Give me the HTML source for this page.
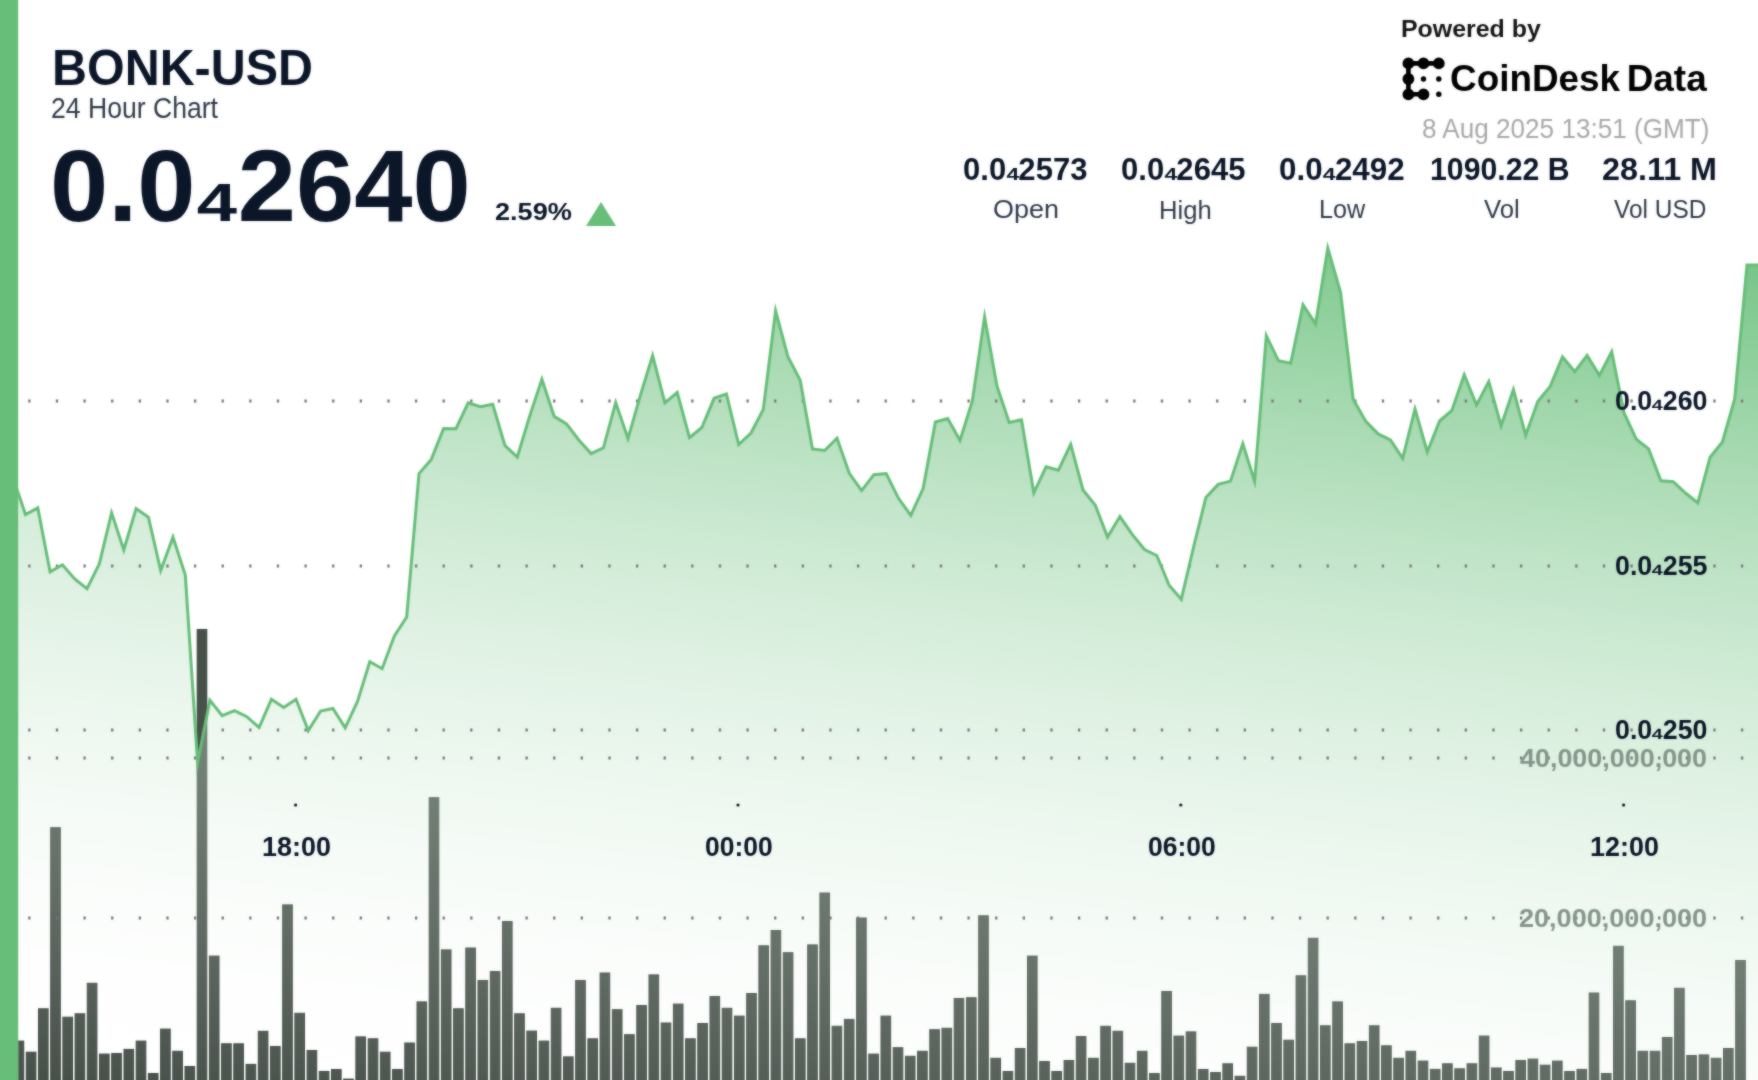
<!DOCTYPE html>
<html><head><meta charset="utf-8"><title>BONK-USD</title>
<style>
html,body{margin:0;padding:0;background:#fff;}
body{width:1758px;height:1080px;overflow:hidden;position:relative;font-family:"Liberation Sans",sans-serif;color:#0b1628;}
#chart,#chart2{position:absolute;left:0;top:0;}
#wrap{position:absolute;left:0;top:0;width:1758px;height:1080px;}
#wrap2{position:absolute;left:-20px;top:-20px;width:1798px;height:1120px;background:#fff;filter:blur(1px);opacity:0.5;}
#wrap2>div{position:absolute;left:20px;top:20px;width:1758px;height:1080px;}
.t{position:absolute;white-space:nowrap;line-height:1;transform-origin:0 0;}
.b{font-weight:bold;}
.r{transform-origin:100% 0;}
.c{transform-origin:50% 0;}
sub.s{font-size:58%;vertical-align:baseline;position:relative;top:0.06em;}
</style></head><body><div id="wrap">
<svg id="chart" width="1758" height="1080" viewBox="0 0 1758 1080" overflow="visible" style="overflow:visible">
<defs>
<linearGradient id="ag" gradientUnits="userSpaceOnUse" x1="1758" y1="202" x2="1634.2" y2="1263.2">
<stop offset="0" stop-color="#66be78" stop-opacity="1"/>
<stop offset="1" stop-color="#ffffff" stop-opacity="0"/>
</linearGradient>
<clipPath id="cp"><rect x="18.2" y="-20" width="1780" height="1130"/></clipPath>
</defs>
<g clip-path="url(#cp)">
<g fill="#47514a" stroke="#3b453e" stroke-width="1"><rect x="14.1" y="1041.1" width="9.6" height="69.4"/><rect x="26.3" y="1052.2" width="9.6" height="58.3"/><rect x="38.5" y="1008.8" width="9.6" height="101.7"/><rect x="50.7" y="827.7" width="9.6" height="282.8"/><rect x="62.9" y="1017.2" width="9.6" height="93.3"/><rect x="75.1" y="1013.8" width="9.6" height="96.7"/><rect x="87.3" y="983.3" width="9.6" height="127.2"/><rect x="99.5" y="1054.1" width="9.6" height="56.4"/><rect x="111.7" y="1053.5" width="9.6" height="57.0"/><rect x="124.0" y="1049.4" width="9.6" height="61.1"/><rect x="136.2" y="1041.1" width="9.6" height="69.4"/><rect x="148.4" y="1073.5" width="9.6" height="37.0"/><rect x="160.6" y="1029.1" width="9.6" height="81.4"/><rect x="172.8" y="1051.3" width="9.6" height="59.2"/><rect x="185.0" y="1066.5" width="9.6" height="44.0"/><rect x="197.2" y="629.5" width="9.6" height="481.0"/><rect x="209.4" y="956.1" width="9.6" height="154.4"/><rect x="221.6" y="1043.8" width="9.6" height="66.7"/><rect x="233.8" y="1043.8" width="9.6" height="66.7"/><rect x="246.1" y="1064.4" width="9.6" height="46.1"/><rect x="258.3" y="1031.3" width="9.6" height="79.2"/><rect x="270.5" y="1046.5" width="9.6" height="64.0"/><rect x="282.7" y="904.9" width="9.6" height="205.6"/><rect x="294.9" y="1013.3" width="9.6" height="97.2"/><rect x="307.1" y="1050.5" width="9.6" height="60.0"/><rect x="319.3" y="1071.5" width="9.6" height="39.0"/><rect x="331.5" y="1069.5" width="9.6" height="41.0"/><rect x="343.7" y="1079.1" width="9.6" height="31.4"/><rect x="355.9" y="1036.9" width="9.6" height="73.6"/><rect x="368.2" y="1038.8" width="9.6" height="71.7"/><rect x="380.4" y="1052.2" width="9.6" height="58.3"/><rect x="392.6" y="1069.5" width="9.6" height="41.0"/><rect x="404.8" y="1043.0" width="9.6" height="67.5"/><rect x="417.0" y="1001.9" width="9.6" height="108.6"/><rect x="429.2" y="797.7" width="9.6" height="312.8"/><rect x="441.4" y="949.9" width="9.6" height="160.6"/><rect x="453.6" y="1008.8" width="9.6" height="101.7"/><rect x="465.8" y="948.0" width="9.6" height="162.5"/><rect x="478.0" y="980.5" width="9.6" height="130.0"/><rect x="490.3" y="971.5" width="9.6" height="139.0"/><rect x="502.5" y="921.5" width="9.6" height="189.0"/><rect x="514.7" y="1013.8" width="9.6" height="96.7"/><rect x="526.9" y="1031.1" width="9.6" height="79.4"/><rect x="539.1" y="1041.1" width="9.6" height="69.4"/><rect x="551.3" y="1008.3" width="9.6" height="102.2"/><rect x="563.5" y="1056.9" width="9.6" height="53.6"/><rect x="575.7" y="980.5" width="9.6" height="130.0"/><rect x="587.9" y="1038.8" width="9.6" height="71.7"/><rect x="600.1" y="973.0" width="9.6" height="137.5"/><rect x="612.4" y="1009.7" width="9.6" height="100.8"/><rect x="624.6" y="1034.7" width="9.6" height="75.8"/><rect x="636.8" y="1005.5" width="9.6" height="105.0"/><rect x="649.0" y="974.9" width="9.6" height="135.6"/><rect x="661.2" y="1023.0" width="9.6" height="87.5"/><rect x="673.4" y="1004.1" width="9.6" height="106.4"/><rect x="685.6" y="1038.8" width="9.6" height="71.7"/><rect x="697.8" y="1023.5" width="9.6" height="87.0"/><rect x="710.0" y="996.5" width="9.6" height="114.0"/><rect x="722.2" y="1008.3" width="9.6" height="102.2"/><rect x="734.5" y="1016.1" width="9.6" height="94.4"/><rect x="746.7" y="993.5" width="9.6" height="117.0"/><rect x="758.9" y="945.8" width="9.6" height="164.7"/><rect x="771.1" y="930.5" width="9.6" height="180.0"/><rect x="783.3" y="952.7" width="9.6" height="157.8"/><rect x="795.5" y="1038.8" width="9.6" height="71.7"/><rect x="807.7" y="944.9" width="9.6" height="165.6"/><rect x="819.9" y="893.0" width="9.6" height="217.5"/><rect x="832.1" y="1026.3" width="9.6" height="84.2"/><rect x="844.4" y="1019.4" width="9.6" height="91.1"/><rect x="856.6" y="918.0" width="9.6" height="192.5"/><rect x="868.8" y="1054.1" width="9.6" height="56.4"/><rect x="881.0" y="1016.1" width="9.6" height="94.4"/><rect x="893.2" y="1047.7" width="9.6" height="62.8"/><rect x="905.4" y="1056.3" width="9.6" height="54.2"/><rect x="917.6" y="1051.3" width="9.6" height="59.2"/><rect x="929.8" y="1029.7" width="9.6" height="80.8"/><rect x="942.0" y="1028.3" width="9.6" height="82.2"/><rect x="954.2" y="998.5" width="9.6" height="112.0"/><rect x="966.5" y="997.7" width="9.6" height="112.8"/><rect x="978.7" y="915.8" width="9.6" height="194.7"/><rect x="990.9" y="1058.3" width="9.6" height="52.2"/><rect x="1003.1" y="1071.5" width="9.6" height="39.0"/><rect x="1015.3" y="1048.5" width="9.6" height="62.0"/><rect x="1027.5" y="956.1" width="9.6" height="154.4"/><rect x="1039.7" y="1061.5" width="9.6" height="49.0"/><rect x="1051.9" y="1071.5" width="9.6" height="39.0"/><rect x="1064.1" y="1060.5" width="9.6" height="50.0"/><rect x="1076.3" y="1036.5" width="9.6" height="74.0"/><rect x="1088.6" y="1058.3" width="9.6" height="52.2"/><rect x="1100.8" y="1026.3" width="9.6" height="84.2"/><rect x="1113.0" y="1031.3" width="9.6" height="79.2"/><rect x="1125.2" y="1063.3" width="9.6" height="47.2"/><rect x="1137.4" y="1051.3" width="9.6" height="59.2"/><rect x="1149.6" y="1073.5" width="9.6" height="37.0"/><rect x="1161.8" y="991.5" width="9.6" height="119.0"/><rect x="1174.0" y="1036.1" width="9.6" height="74.4"/><rect x="1186.2" y="1031.9" width="9.6" height="78.6"/><rect x="1198.4" y="1069.5" width="9.6" height="41.0"/><rect x="1210.7" y="1072.5" width="9.6" height="38.0"/><rect x="1222.9" y="1063.8" width="9.6" height="46.7"/><rect x="1235.1" y="1076.3" width="9.6" height="34.2"/><rect x="1247.3" y="1047.2" width="9.6" height="63.3"/><rect x="1259.5" y="994.4" width="9.6" height="116.1"/><rect x="1271.7" y="1023.5" width="9.6" height="87.0"/><rect x="1283.9" y="1040.2" width="9.6" height="70.3"/><rect x="1296.1" y="975.8" width="9.6" height="134.7"/><rect x="1308.3" y="938.3" width="9.6" height="172.2"/><rect x="1320.5" y="1025.8" width="9.6" height="84.7"/><rect x="1332.8" y="1001.9" width="9.6" height="108.6"/><rect x="1345.0" y="1043.8" width="9.6" height="66.7"/><rect x="1357.2" y="1041.5" width="9.6" height="69.0"/><rect x="1369.4" y="1025.8" width="9.6" height="84.7"/><rect x="1381.6" y="1045.8" width="9.6" height="64.7"/><rect x="1393.8" y="1058.3" width="9.6" height="52.2"/><rect x="1406.0" y="1051.3" width="9.6" height="59.2"/><rect x="1418.2" y="1061.1" width="9.6" height="49.4"/><rect x="1430.4" y="1069.4" width="9.6" height="41.1"/><rect x="1442.6" y="1063.8" width="9.6" height="46.7"/><rect x="1454.8" y="1068.8" width="9.6" height="41.7"/><rect x="1467.1" y="1063.8" width="9.6" height="46.7"/><rect x="1479.3" y="1036.1" width="9.6" height="74.4"/><rect x="1491.5" y="1068.0" width="9.6" height="42.5"/><rect x="1503.7" y="1071.5" width="9.6" height="39.0"/><rect x="1515.9" y="1060.5" width="9.6" height="50.0"/><rect x="1528.1" y="1059.1" width="9.6" height="51.4"/><rect x="1540.3" y="1065.2" width="9.6" height="45.3"/><rect x="1552.5" y="1061.1" width="9.6" height="49.4"/><rect x="1564.7" y="1071.5" width="9.6" height="39.0"/><rect x="1577.0" y="1069.4" width="9.6" height="41.1"/><rect x="1589.2" y="993.0" width="9.6" height="117.5"/><rect x="1601.4" y="1073.5" width="9.6" height="37.0"/><rect x="1613.6" y="946.3" width="9.6" height="164.2"/><rect x="1625.8" y="1000.8" width="9.6" height="109.7"/><rect x="1638.0" y="1051.3" width="9.6" height="59.2"/><rect x="1650.2" y="1051.3" width="9.6" height="59.2"/><rect x="1662.4" y="1037.5" width="9.6" height="73.0"/><rect x="1674.6" y="988.3" width="9.6" height="122.2"/><rect x="1686.8" y="1055.5" width="9.6" height="55.0"/><rect x="1699.1" y="1054.9" width="9.6" height="55.6"/><rect x="1711.3" y="1058.3" width="9.6" height="52.2"/><rect x="1723.5" y="1048.5" width="9.6" height="62.0"/><rect x="1735.7" y="960.5" width="9.6" height="150.0"/></g>
<path d="M13.2,478.0 L25.5,514.6 L37.8,507.9 L50.1,571.9 L62.4,564.8 L74.7,579.0 L87.0,588.7 L99.3,563.9 L111.6,512.9 L123.8,549.9 L136.1,508.6 L148.4,517.2 L160.7,570.6 L173.0,537.2 L185.3,575.0 L197.6,762.7 L209.9,700.3 L222.2,715.7 L234.5,710.6 L246.8,716.7 L259.1,727.5 L271.4,699.3 L283.7,707.5 L296.0,699.3 L308.3,730.6 L320.6,711.0 L332.9,708.5 L345.2,727.8 L357.5,701.4 L369.8,661.7 L382.1,668.7 L394.4,636.0 L406.7,617.0 L419.0,473.5 L431.3,459.4 L443.6,428.5 L455.9,428.7 L468.2,402.9 L480.4,406.7 L492.7,404.3 L505.0,445.6 L517.3,457.0 L529.6,416.4 L541.9,379.2 L554.2,416.4 L566.5,423.9 L578.8,440.0 L591.1,453.6 L603.4,447.8 L615.7,402.6 L628.0,438.6 L640.3,395.6 L652.6,355.6 L664.9,402.8 L677.2,392.5 L689.5,437.6 L701.8,427.5 L714.1,398.3 L726.4,393.9 L738.7,444.5 L751.0,433.0 L763.3,409.4 L775.6,310.9 L787.9,356.7 L800.2,380.3 L812.5,448.9 L824.7,450.5 L837.0,438.2 L849.3,473.3 L861.6,490.6 L873.9,474.7 L886.2,473.5 L898.5,498.3 L910.8,515.3 L923.1,488.6 L935.4,422.0 L947.7,418.6 L960.0,440.4 L972.3,401.1 L984.6,316.8 L996.9,385.8 L1009.2,422.4 L1021.5,419.7 L1033.8,492.8 L1046.1,466.8 L1058.4,470.2 L1070.7,444.4 L1083.0,490.0 L1095.3,505.3 L1107.6,537.1 L1119.9,516.6 L1132.2,534.4 L1144.5,549.5 L1156.8,555.5 L1169.1,585.3 L1181.3,599.2 L1193.6,547.0 L1205.9,497.5 L1218.2,484.4 L1230.5,481.1 L1242.8,443.6 L1254.6,481.3 L1266.3,335.8 L1278.5,360.8 L1290.7,363.3 L1303.0,304.9 L1315.6,323.9 L1327.8,248.1 L1340.6,292.5 L1353.2,399.2 L1365.8,421.4 L1378.1,433.9 L1390.4,440.0 L1402.7,458.4 L1415.0,409.0 L1427.3,452.0 L1439.6,421.0 L1451.9,410.5 L1464.2,374.7 L1476.5,404.9 L1488.8,381.6 L1501.1,425.8 L1513.4,389.6 L1525.7,435.2 L1537.9,401.2 L1550.2,386.4 L1562.5,356.9 L1574.8,371.7 L1587.1,355.4 L1599.4,375.4 L1611.7,351.8 L1624.0,412.8 L1636.3,439.2 L1648.6,448.9 L1660.9,480.8 L1673.2,481.7 L1685.5,493.0 L1697.8,502.9 L1710.1,457.2 L1722.4,442.0 L1734.7,399.0 L1747.0,265.0 L1759.3,265.0 L1790,265.0 L1790,1110 L13.2,1110 Z" fill="url(#ag)"/>
<g stroke="#7a7480" stroke-width="2.8" stroke-dasharray="2.3 25.325" fill="none"><line x1="28.2" x2="1790" y1="401" y2="401"/><line x1="28.2" x2="1790" y1="566" y2="566"/><line x1="28.2" x2="1790" y1="730" y2="730"/><line x1="28.2" x2="1790" y1="758" y2="758"/><line x1="28.2" x2="1790" y1="918" y2="918"/></g>
<path d="M13.2,478.0 L25.5,514.6 L37.8,507.9 L50.1,571.9 L62.4,564.8 L74.7,579.0 L87.0,588.7 L99.3,563.9 L111.6,512.9 L123.8,549.9 L136.1,508.6 L148.4,517.2 L160.7,570.6 L173.0,537.2 L185.3,575.0 L197.6,762.7 L209.9,700.3 L222.2,715.7 L234.5,710.6 L246.8,716.7 L259.1,727.5 L271.4,699.3 L283.7,707.5 L296.0,699.3 L308.3,730.6 L320.6,711.0 L332.9,708.5 L345.2,727.8 L357.5,701.4 L369.8,661.7 L382.1,668.7 L394.4,636.0 L406.7,617.0 L419.0,473.5 L431.3,459.4 L443.6,428.5 L455.9,428.7 L468.2,402.9 L480.4,406.7 L492.7,404.3 L505.0,445.6 L517.3,457.0 L529.6,416.4 L541.9,379.2 L554.2,416.4 L566.5,423.9 L578.8,440.0 L591.1,453.6 L603.4,447.8 L615.7,402.6 L628.0,438.6 L640.3,395.6 L652.6,355.6 L664.9,402.8 L677.2,392.5 L689.5,437.6 L701.8,427.5 L714.1,398.3 L726.4,393.9 L738.7,444.5 L751.0,433.0 L763.3,409.4 L775.6,310.9 L787.9,356.7 L800.2,380.3 L812.5,448.9 L824.7,450.5 L837.0,438.2 L849.3,473.3 L861.6,490.6 L873.9,474.7 L886.2,473.5 L898.5,498.3 L910.8,515.3 L923.1,488.6 L935.4,422.0 L947.7,418.6 L960.0,440.4 L972.3,401.1 L984.6,316.8 L996.9,385.8 L1009.2,422.4 L1021.5,419.7 L1033.8,492.8 L1046.1,466.8 L1058.4,470.2 L1070.7,444.4 L1083.0,490.0 L1095.3,505.3 L1107.6,537.1 L1119.9,516.6 L1132.2,534.4 L1144.5,549.5 L1156.8,555.5 L1169.1,585.3 L1181.3,599.2 L1193.6,547.0 L1205.9,497.5 L1218.2,484.4 L1230.5,481.1 L1242.8,443.6 L1254.6,481.3 L1266.3,335.8 L1278.5,360.8 L1290.7,363.3 L1303.0,304.9 L1315.6,323.9 L1327.8,248.1 L1340.6,292.5 L1353.2,399.2 L1365.8,421.4 L1378.1,433.9 L1390.4,440.0 L1402.7,458.4 L1415.0,409.0 L1427.3,452.0 L1439.6,421.0 L1451.9,410.5 L1464.2,374.7 L1476.5,404.9 L1488.8,381.6 L1501.1,425.8 L1513.4,389.6 L1525.7,435.2 L1537.9,401.2 L1550.2,386.4 L1562.5,356.9 L1574.8,371.7 L1587.1,355.4 L1599.4,375.4 L1611.7,351.8 L1624.0,412.8 L1636.3,439.2 L1648.6,448.9 L1660.9,480.8 L1673.2,481.7 L1685.5,493.0 L1697.8,502.9 L1710.1,457.2 L1722.4,442.0 L1734.7,399.0 L1747.0,265.0 L1759.3,265.0 L1790,265.0" fill="none" stroke="#66be78" stroke-width="3.0" stroke-linejoin="miter" stroke-miterlimit="10"/>
<g fill="#0b1628"><circle cx="295.6" cy="805" r="1.6"/><circle cx="738" cy="805" r="1.6"/><circle cx="1180.8" cy="805" r="1.6"/><circle cx="1623.6" cy="805" r="1.6"/></g>
</g>
<rect x="-20" y="-20" width="38.2" height="1130" fill="#66be78"/>
<!-- logo icon -->
<g fill="#000" stroke="#000" stroke-width="4.6" stroke-linecap="round">
<path d="M1438.8,63.4 H1408.4 V94.3 H1423.5" fill="none" stroke-linejoin="round"/>
<circle cx="1408.4" cy="63.4" r="3.6"/><circle cx="1423.5" cy="63.4" r="3.6"/><circle cx="1438.8" cy="63.4" r="3.6"/>
<circle cx="1408.4" cy="79" r="3.6"/><circle cx="1408.4" cy="94.3" r="3.6"/><circle cx="1423.5" cy="94.3" r="3.6"/>
</g>
<g fill="#000"><circle cx="1423.5" cy="79" r="2.7"/><circle cx="1438.8" cy="79" r="2.7"/><circle cx="1438.8" cy="94.3" r="2.7"/></g>
<path d="M586,226 L601,202 L616,226 Z" fill="#66be78"/>
</svg>
<div class="t b" style="left:51.97px;top:44.05px;font-size:48px;color:#0b1628;transform:scale(1.0091,1.0364)">BONK-USD</div>
<div class="t" style="left:50.58px;top:94.10px;font-size:26px;color:#2f3a49;transform:scale(1.0222,1.1000)">24 Hour Chart</div>
<div class="t b" style="left:49.71px;top:134.38px;font-size:100px;color:#0b1628;transform:scale(1.0470,1.0261)">0.0<span style="display:inline-block;font-size:52%;transform:scaleX(1.33);margin:0 0.11em">4</span>2640</div>
<div class="t b" style="left:494.67px;top:199.98px;font-size:24px;color:#0b1628;transform:scale(1.1299,1.0059)">2.59%</div>
<div class="t b" style="left:1400.72px;top:16.68px;font-size:24px;color:#151515;transform:scale(1.0379,1.0059)">Powered by</div>
<div class="t b" style="left:1449.76px;top:60.45px;font-size:38px;color:#000;transform:scale(0.9707,0.9704)">CoinDesk<span style="margin-left:-0.1em"> </span>Data</div>
<div class="t" style="left:1421.80px;top:114.98px;font-size:26px;color:#a9a9a9;transform:scale(1.0042,1.0556)">8 Aug 2025 13:51 (GMT)</div>
<div class="t b" style="left:963.23px;top:155.40px;font-size:29px;color:#0b1628;transform:scale(1.0702,1.0500)">0.0<span style="display:inline-block;font-size:55%;transform:scaleX(1.33);margin:0 0.08em">4</span>2573</div>
<div class="t b" style="left:1120.93px;top:155.40px;font-size:29px;color:#0b1628;transform:scale(1.0702,1.0500)">0.0<span style="display:inline-block;font-size:55%;transform:scaleX(1.33);margin:0 0.08em">4</span>2645</div>
<div class="t b" style="left:1278.82px;top:155.40px;font-size:29px;color:#0b1628;transform:scale(1.0807,1.0500)">0.0<span style="display:inline-block;font-size:55%;transform:scaleX(1.33);margin:0 0.08em">4</span>2492</div>
<div class="t b" style="left:1429.61px;top:155.40px;font-size:29px;color:#0b1628;transform:scale(1.0427,1.0500)">1090.22 B</div>
<div class="t b" style="left:1601.79px;top:155.40px;font-size:29px;color:#0b1628;transform:scale(1.1150,1.0500)">28.11 M</div>
<div class="t" style="left:992.78px;top:197.46px;font-size:24px;color:#2f3a49;transform:scale(1.1232,1.0471)">Open</div>
<div class="t" style="left:1158.57px;top:196.75px;font-size:24px;color:#2f3a49;transform:scale(1.0674,1.0824)">High</div>
<div class="t" style="left:1318.70px;top:197.46px;font-size:24px;color:#2f3a49;transform:scale(1.0500,1.0471)">Low</div>
<div class="t" style="left:1483.50px;top:197.46px;font-size:24px;color:#2f3a49;transform:scale(1.0719,1.0471)">Vol</div>
<div class="t" style="left:1613.80px;top:197.46px;font-size:24px;color:#2f3a49;transform:scale(1.0178,1.0471)">Vol USD</div>
<div class="t b" style="left:1614.77px;top:387.38px;font-size:26px;color:#0b1628;transform:scale(1.0307,1.0556)">0.0<span style="display:inline-block;font-size:55%;transform:scaleX(1.33);margin:0 0.08em">4</span>260</div>
<div class="t b" style="left:1614.77px;top:551.78px;font-size:26px;color:#0b1628;transform:scale(1.0307,1.0556)">0.0<span style="display:inline-block;font-size:55%;transform:scaleX(1.33);margin:0 0.08em">4</span>255</div>
<div class="t b" style="left:1614.77px;top:716.28px;font-size:26px;color:#0b1628;transform:scale(1.0307,1.0556)">0.0<span style="display:inline-block;font-size:55%;transform:scaleX(1.33);margin:0 0.08em">4</span>250</div>
<div class="t b" style="left:1520.20px;top:745.26px;font-size:26px;color:#84968a;transform:scale(1.0350,1.0111)">40,000,000,000</div>
<div class="t b" style="left:1519.16px;top:905.26px;font-size:26px;color:#84968a;transform:scale(1.0408,1.0111)">20,000,000,000</div>
<div class="t b" style="left:262.01px;top:834.25px;font-size:27px;color:#0b1628;transform:scale(0.9970,1.0158)">18:00</div>
<div class="t b" style="left:704.92px;top:834.25px;font-size:27px;color:#0b1628;transform:scale(0.9821,1.0158)">00:00</div>
<div class="t b" style="left:1147.72px;top:834.25px;font-size:27px;color:#0b1628;transform:scale(0.9821,1.0158)">06:00</div>
<div class="t b" style="left:1589.51px;top:834.25px;font-size:27px;color:#0b1628;transform:scale(0.9970,1.0158)">12:00</div>
</div><div id="wrap2"><div>
<svg id="chart2" width="1758" height="1080" viewBox="0 0 1758 1080" overflow="visible" style="overflow:visible">
<defs>
<linearGradient id="ag2" gradientUnits="userSpaceOnUse" x1="1758" y1="202" x2="1634.2" y2="1263.2">
<stop offset="0" stop-color="#66be78" stop-opacity="1"/>
<stop offset="1" stop-color="#ffffff" stop-opacity="0"/>
</linearGradient>
<clipPath id="cp2"><rect x="18.2" y="-20" width="1780" height="1130"/></clipPath>
</defs>
<g clip-path="url(#cp2)">
<g fill="#47514a" stroke="#3b453e" stroke-width="1"><rect x="14.1" y="1041.1" width="9.6" height="69.4"/><rect x="26.3" y="1052.2" width="9.6" height="58.3"/><rect x="38.5" y="1008.8" width="9.6" height="101.7"/><rect x="50.7" y="827.7" width="9.6" height="282.8"/><rect x="62.9" y="1017.2" width="9.6" height="93.3"/><rect x="75.1" y="1013.8" width="9.6" height="96.7"/><rect x="87.3" y="983.3" width="9.6" height="127.2"/><rect x="99.5" y="1054.1" width="9.6" height="56.4"/><rect x="111.7" y="1053.5" width="9.6" height="57.0"/><rect x="124.0" y="1049.4" width="9.6" height="61.1"/><rect x="136.2" y="1041.1" width="9.6" height="69.4"/><rect x="148.4" y="1073.5" width="9.6" height="37.0"/><rect x="160.6" y="1029.1" width="9.6" height="81.4"/><rect x="172.8" y="1051.3" width="9.6" height="59.2"/><rect x="185.0" y="1066.5" width="9.6" height="44.0"/><rect x="197.2" y="629.5" width="9.6" height="481.0"/><rect x="209.4" y="956.1" width="9.6" height="154.4"/><rect x="221.6" y="1043.8" width="9.6" height="66.7"/><rect x="233.8" y="1043.8" width="9.6" height="66.7"/><rect x="246.1" y="1064.4" width="9.6" height="46.1"/><rect x="258.3" y="1031.3" width="9.6" height="79.2"/><rect x="270.5" y="1046.5" width="9.6" height="64.0"/><rect x="282.7" y="904.9" width="9.6" height="205.6"/><rect x="294.9" y="1013.3" width="9.6" height="97.2"/><rect x="307.1" y="1050.5" width="9.6" height="60.0"/><rect x="319.3" y="1071.5" width="9.6" height="39.0"/><rect x="331.5" y="1069.5" width="9.6" height="41.0"/><rect x="343.7" y="1079.1" width="9.6" height="31.4"/><rect x="355.9" y="1036.9" width="9.6" height="73.6"/><rect x="368.2" y="1038.8" width="9.6" height="71.7"/><rect x="380.4" y="1052.2" width="9.6" height="58.3"/><rect x="392.6" y="1069.5" width="9.6" height="41.0"/><rect x="404.8" y="1043.0" width="9.6" height="67.5"/><rect x="417.0" y="1001.9" width="9.6" height="108.6"/><rect x="429.2" y="797.7" width="9.6" height="312.8"/><rect x="441.4" y="949.9" width="9.6" height="160.6"/><rect x="453.6" y="1008.8" width="9.6" height="101.7"/><rect x="465.8" y="948.0" width="9.6" height="162.5"/><rect x="478.0" y="980.5" width="9.6" height="130.0"/><rect x="490.3" y="971.5" width="9.6" height="139.0"/><rect x="502.5" y="921.5" width="9.6" height="189.0"/><rect x="514.7" y="1013.8" width="9.6" height="96.7"/><rect x="526.9" y="1031.1" width="9.6" height="79.4"/><rect x="539.1" y="1041.1" width="9.6" height="69.4"/><rect x="551.3" y="1008.3" width="9.6" height="102.2"/><rect x="563.5" y="1056.9" width="9.6" height="53.6"/><rect x="575.7" y="980.5" width="9.6" height="130.0"/><rect x="587.9" y="1038.8" width="9.6" height="71.7"/><rect x="600.1" y="973.0" width="9.6" height="137.5"/><rect x="612.4" y="1009.7" width="9.6" height="100.8"/><rect x="624.6" y="1034.7" width="9.6" height="75.8"/><rect x="636.8" y="1005.5" width="9.6" height="105.0"/><rect x="649.0" y="974.9" width="9.6" height="135.6"/><rect x="661.2" y="1023.0" width="9.6" height="87.5"/><rect x="673.4" y="1004.1" width="9.6" height="106.4"/><rect x="685.6" y="1038.8" width="9.6" height="71.7"/><rect x="697.8" y="1023.5" width="9.6" height="87.0"/><rect x="710.0" y="996.5" width="9.6" height="114.0"/><rect x="722.2" y="1008.3" width="9.6" height="102.2"/><rect x="734.5" y="1016.1" width="9.6" height="94.4"/><rect x="746.7" y="993.5" width="9.6" height="117.0"/><rect x="758.9" y="945.8" width="9.6" height="164.7"/><rect x="771.1" y="930.5" width="9.6" height="180.0"/><rect x="783.3" y="952.7" width="9.6" height="157.8"/><rect x="795.5" y="1038.8" width="9.6" height="71.7"/><rect x="807.7" y="944.9" width="9.6" height="165.6"/><rect x="819.9" y="893.0" width="9.6" height="217.5"/><rect x="832.1" y="1026.3" width="9.6" height="84.2"/><rect x="844.4" y="1019.4" width="9.6" height="91.1"/><rect x="856.6" y="918.0" width="9.6" height="192.5"/><rect x="868.8" y="1054.1" width="9.6" height="56.4"/><rect x="881.0" y="1016.1" width="9.6" height="94.4"/><rect x="893.2" y="1047.7" width="9.6" height="62.8"/><rect x="905.4" y="1056.3" width="9.6" height="54.2"/><rect x="917.6" y="1051.3" width="9.6" height="59.2"/><rect x="929.8" y="1029.7" width="9.6" height="80.8"/><rect x="942.0" y="1028.3" width="9.6" height="82.2"/><rect x="954.2" y="998.5" width="9.6" height="112.0"/><rect x="966.5" y="997.7" width="9.6" height="112.8"/><rect x="978.7" y="915.8" width="9.6" height="194.7"/><rect x="990.9" y="1058.3" width="9.6" height="52.2"/><rect x="1003.1" y="1071.5" width="9.6" height="39.0"/><rect x="1015.3" y="1048.5" width="9.6" height="62.0"/><rect x="1027.5" y="956.1" width="9.6" height="154.4"/><rect x="1039.7" y="1061.5" width="9.6" height="49.0"/><rect x="1051.9" y="1071.5" width="9.6" height="39.0"/><rect x="1064.1" y="1060.5" width="9.6" height="50.0"/><rect x="1076.3" y="1036.5" width="9.6" height="74.0"/><rect x="1088.6" y="1058.3" width="9.6" height="52.2"/><rect x="1100.8" y="1026.3" width="9.6" height="84.2"/><rect x="1113.0" y="1031.3" width="9.6" height="79.2"/><rect x="1125.2" y="1063.3" width="9.6" height="47.2"/><rect x="1137.4" y="1051.3" width="9.6" height="59.2"/><rect x="1149.6" y="1073.5" width="9.6" height="37.0"/><rect x="1161.8" y="991.5" width="9.6" height="119.0"/><rect x="1174.0" y="1036.1" width="9.6" height="74.4"/><rect x="1186.2" y="1031.9" width="9.6" height="78.6"/><rect x="1198.4" y="1069.5" width="9.6" height="41.0"/><rect x="1210.7" y="1072.5" width="9.6" height="38.0"/><rect x="1222.9" y="1063.8" width="9.6" height="46.7"/><rect x="1235.1" y="1076.3" width="9.6" height="34.2"/><rect x="1247.3" y="1047.2" width="9.6" height="63.3"/><rect x="1259.5" y="994.4" width="9.6" height="116.1"/><rect x="1271.7" y="1023.5" width="9.6" height="87.0"/><rect x="1283.9" y="1040.2" width="9.6" height="70.3"/><rect x="1296.1" y="975.8" width="9.6" height="134.7"/><rect x="1308.3" y="938.3" width="9.6" height="172.2"/><rect x="1320.5" y="1025.8" width="9.6" height="84.7"/><rect x="1332.8" y="1001.9" width="9.6" height="108.6"/><rect x="1345.0" y="1043.8" width="9.6" height="66.7"/><rect x="1357.2" y="1041.5" width="9.6" height="69.0"/><rect x="1369.4" y="1025.8" width="9.6" height="84.7"/><rect x="1381.6" y="1045.8" width="9.6" height="64.7"/><rect x="1393.8" y="1058.3" width="9.6" height="52.2"/><rect x="1406.0" y="1051.3" width="9.6" height="59.2"/><rect x="1418.2" y="1061.1" width="9.6" height="49.4"/><rect x="1430.4" y="1069.4" width="9.6" height="41.1"/><rect x="1442.6" y="1063.8" width="9.6" height="46.7"/><rect x="1454.8" y="1068.8" width="9.6" height="41.7"/><rect x="1467.1" y="1063.8" width="9.6" height="46.7"/><rect x="1479.3" y="1036.1" width="9.6" height="74.4"/><rect x="1491.5" y="1068.0" width="9.6" height="42.5"/><rect x="1503.7" y="1071.5" width="9.6" height="39.0"/><rect x="1515.9" y="1060.5" width="9.6" height="50.0"/><rect x="1528.1" y="1059.1" width="9.6" height="51.4"/><rect x="1540.3" y="1065.2" width="9.6" height="45.3"/><rect x="1552.5" y="1061.1" width="9.6" height="49.4"/><rect x="1564.7" y="1071.5" width="9.6" height="39.0"/><rect x="1577.0" y="1069.4" width="9.6" height="41.1"/><rect x="1589.2" y="993.0" width="9.6" height="117.5"/><rect x="1601.4" y="1073.5" width="9.6" height="37.0"/><rect x="1613.6" y="946.3" width="9.6" height="164.2"/><rect x="1625.8" y="1000.8" width="9.6" height="109.7"/><rect x="1638.0" y="1051.3" width="9.6" height="59.2"/><rect x="1650.2" y="1051.3" width="9.6" height="59.2"/><rect x="1662.4" y="1037.5" width="9.6" height="73.0"/><rect x="1674.6" y="988.3" width="9.6" height="122.2"/><rect x="1686.8" y="1055.5" width="9.6" height="55.0"/><rect x="1699.1" y="1054.9" width="9.6" height="55.6"/><rect x="1711.3" y="1058.3" width="9.6" height="52.2"/><rect x="1723.5" y="1048.5" width="9.6" height="62.0"/><rect x="1735.7" y="960.5" width="9.6" height="150.0"/></g>
<path d="M13.2,478.0 L25.5,514.6 L37.8,507.9 L50.1,571.9 L62.4,564.8 L74.7,579.0 L87.0,588.7 L99.3,563.9 L111.6,512.9 L123.8,549.9 L136.1,508.6 L148.4,517.2 L160.7,570.6 L173.0,537.2 L185.3,575.0 L197.6,762.7 L209.9,700.3 L222.2,715.7 L234.5,710.6 L246.8,716.7 L259.1,727.5 L271.4,699.3 L283.7,707.5 L296.0,699.3 L308.3,730.6 L320.6,711.0 L332.9,708.5 L345.2,727.8 L357.5,701.4 L369.8,661.7 L382.1,668.7 L394.4,636.0 L406.7,617.0 L419.0,473.5 L431.3,459.4 L443.6,428.5 L455.9,428.7 L468.2,402.9 L480.4,406.7 L492.7,404.3 L505.0,445.6 L517.3,457.0 L529.6,416.4 L541.9,379.2 L554.2,416.4 L566.5,423.9 L578.8,440.0 L591.1,453.6 L603.4,447.8 L615.7,402.6 L628.0,438.6 L640.3,395.6 L652.6,355.6 L664.9,402.8 L677.2,392.5 L689.5,437.6 L701.8,427.5 L714.1,398.3 L726.4,393.9 L738.7,444.5 L751.0,433.0 L763.3,409.4 L775.6,310.9 L787.9,356.7 L800.2,380.3 L812.5,448.9 L824.7,450.5 L837.0,438.2 L849.3,473.3 L861.6,490.6 L873.9,474.7 L886.2,473.5 L898.5,498.3 L910.8,515.3 L923.1,488.6 L935.4,422.0 L947.7,418.6 L960.0,440.4 L972.3,401.1 L984.6,316.8 L996.9,385.8 L1009.2,422.4 L1021.5,419.7 L1033.8,492.8 L1046.1,466.8 L1058.4,470.2 L1070.7,444.4 L1083.0,490.0 L1095.3,505.3 L1107.6,537.1 L1119.9,516.6 L1132.2,534.4 L1144.5,549.5 L1156.8,555.5 L1169.1,585.3 L1181.3,599.2 L1193.6,547.0 L1205.9,497.5 L1218.2,484.4 L1230.5,481.1 L1242.8,443.6 L1254.6,481.3 L1266.3,335.8 L1278.5,360.8 L1290.7,363.3 L1303.0,304.9 L1315.6,323.9 L1327.8,248.1 L1340.6,292.5 L1353.2,399.2 L1365.8,421.4 L1378.1,433.9 L1390.4,440.0 L1402.7,458.4 L1415.0,409.0 L1427.3,452.0 L1439.6,421.0 L1451.9,410.5 L1464.2,374.7 L1476.5,404.9 L1488.8,381.6 L1501.1,425.8 L1513.4,389.6 L1525.7,435.2 L1537.9,401.2 L1550.2,386.4 L1562.5,356.9 L1574.8,371.7 L1587.1,355.4 L1599.4,375.4 L1611.7,351.8 L1624.0,412.8 L1636.3,439.2 L1648.6,448.9 L1660.9,480.8 L1673.2,481.7 L1685.5,493.0 L1697.8,502.9 L1710.1,457.2 L1722.4,442.0 L1734.7,399.0 L1747.0,265.0 L1759.3,265.0 L1790,265.0 L1790,1110 L13.2,1110 Z" fill="url(#ag2)"/>
<g stroke="#7a7480" stroke-width="2.8" stroke-dasharray="2.3 25.325" fill="none"><line x1="28.2" x2="1790" y1="401" y2="401"/><line x1="28.2" x2="1790" y1="566" y2="566"/><line x1="28.2" x2="1790" y1="730" y2="730"/><line x1="28.2" x2="1790" y1="758" y2="758"/><line x1="28.2" x2="1790" y1="918" y2="918"/></g>
<path d="M13.2,478.0 L25.5,514.6 L37.8,507.9 L50.1,571.9 L62.4,564.8 L74.7,579.0 L87.0,588.7 L99.3,563.9 L111.6,512.9 L123.8,549.9 L136.1,508.6 L148.4,517.2 L160.7,570.6 L173.0,537.2 L185.3,575.0 L197.6,762.7 L209.9,700.3 L222.2,715.7 L234.5,710.6 L246.8,716.7 L259.1,727.5 L271.4,699.3 L283.7,707.5 L296.0,699.3 L308.3,730.6 L320.6,711.0 L332.9,708.5 L345.2,727.8 L357.5,701.4 L369.8,661.7 L382.1,668.7 L394.4,636.0 L406.7,617.0 L419.0,473.5 L431.3,459.4 L443.6,428.5 L455.9,428.7 L468.2,402.9 L480.4,406.7 L492.7,404.3 L505.0,445.6 L517.3,457.0 L529.6,416.4 L541.9,379.2 L554.2,416.4 L566.5,423.9 L578.8,440.0 L591.1,453.6 L603.4,447.8 L615.7,402.6 L628.0,438.6 L640.3,395.6 L652.6,355.6 L664.9,402.8 L677.2,392.5 L689.5,437.6 L701.8,427.5 L714.1,398.3 L726.4,393.9 L738.7,444.5 L751.0,433.0 L763.3,409.4 L775.6,310.9 L787.9,356.7 L800.2,380.3 L812.5,448.9 L824.7,450.5 L837.0,438.2 L849.3,473.3 L861.6,490.6 L873.9,474.7 L886.2,473.5 L898.5,498.3 L910.8,515.3 L923.1,488.6 L935.4,422.0 L947.7,418.6 L960.0,440.4 L972.3,401.1 L984.6,316.8 L996.9,385.8 L1009.2,422.4 L1021.5,419.7 L1033.8,492.8 L1046.1,466.8 L1058.4,470.2 L1070.7,444.4 L1083.0,490.0 L1095.3,505.3 L1107.6,537.1 L1119.9,516.6 L1132.2,534.4 L1144.5,549.5 L1156.8,555.5 L1169.1,585.3 L1181.3,599.2 L1193.6,547.0 L1205.9,497.5 L1218.2,484.4 L1230.5,481.1 L1242.8,443.6 L1254.6,481.3 L1266.3,335.8 L1278.5,360.8 L1290.7,363.3 L1303.0,304.9 L1315.6,323.9 L1327.8,248.1 L1340.6,292.5 L1353.2,399.2 L1365.8,421.4 L1378.1,433.9 L1390.4,440.0 L1402.7,458.4 L1415.0,409.0 L1427.3,452.0 L1439.6,421.0 L1451.9,410.5 L1464.2,374.7 L1476.5,404.9 L1488.8,381.6 L1501.1,425.8 L1513.4,389.6 L1525.7,435.2 L1537.9,401.2 L1550.2,386.4 L1562.5,356.9 L1574.8,371.7 L1587.1,355.4 L1599.4,375.4 L1611.7,351.8 L1624.0,412.8 L1636.3,439.2 L1648.6,448.9 L1660.9,480.8 L1673.2,481.7 L1685.5,493.0 L1697.8,502.9 L1710.1,457.2 L1722.4,442.0 L1734.7,399.0 L1747.0,265.0 L1759.3,265.0 L1790,265.0" fill="none" stroke="#66be78" stroke-width="3.0" stroke-linejoin="miter" stroke-miterlimit="10"/>
<g fill="#0b1628"><circle cx="295.6" cy="805" r="1.6"/><circle cx="738" cy="805" r="1.6"/><circle cx="1180.8" cy="805" r="1.6"/><circle cx="1623.6" cy="805" r="1.6"/></g>
</g>
<rect x="-20" y="-20" width="38.2" height="1130" fill="#66be78"/>
<!-- logo icon -->
<g fill="#000" stroke="#000" stroke-width="4.6" stroke-linecap="round">
<path d="M1438.8,63.4 H1408.4 V94.3 H1423.5" fill="none" stroke-linejoin="round"/>
<circle cx="1408.4" cy="63.4" r="3.6"/><circle cx="1423.5" cy="63.4" r="3.6"/><circle cx="1438.8" cy="63.4" r="3.6"/>
<circle cx="1408.4" cy="79" r="3.6"/><circle cx="1408.4" cy="94.3" r="3.6"/><circle cx="1423.5" cy="94.3" r="3.6"/>
</g>
<g fill="#000"><circle cx="1423.5" cy="79" r="2.7"/><circle cx="1438.8" cy="79" r="2.7"/><circle cx="1438.8" cy="94.3" r="2.7"/></g>
<path d="M586,226 L601,202 L616,226 Z" fill="#66be78"/>
</svg>
<div class="t b" style="left:51.97px;top:44.05px;font-size:48px;color:#0b1628;transform:scale(1.0091,1.0364)">BONK-USD</div>
<div class="t" style="left:50.58px;top:94.10px;font-size:26px;color:#2f3a49;transform:scale(1.0222,1.1000)">24 Hour Chart</div>
<div class="t b" style="left:49.71px;top:134.38px;font-size:100px;color:#0b1628;transform:scale(1.0470,1.0261)">0.0<span style="display:inline-block;font-size:52%;transform:scaleX(1.33);margin:0 0.11em">4</span>2640</div>
<div class="t b" style="left:494.67px;top:199.98px;font-size:24px;color:#0b1628;transform:scale(1.1299,1.0059)">2.59%</div>
<div class="t b" style="left:1400.72px;top:16.68px;font-size:24px;color:#151515;transform:scale(1.0379,1.0059)">Powered by</div>
<div class="t b" style="left:1449.76px;top:60.45px;font-size:38px;color:#000;transform:scale(0.9707,0.9704)">CoinDesk<span style="margin-left:-0.1em"> </span>Data</div>
<div class="t" style="left:1421.80px;top:114.98px;font-size:26px;color:#a9a9a9;transform:scale(1.0042,1.0556)">8 Aug 2025 13:51 (GMT)</div>
<div class="t b" style="left:963.23px;top:155.40px;font-size:29px;color:#0b1628;transform:scale(1.0702,1.0500)">0.0<span style="display:inline-block;font-size:55%;transform:scaleX(1.33);margin:0 0.08em">4</span>2573</div>
<div class="t b" style="left:1120.93px;top:155.40px;font-size:29px;color:#0b1628;transform:scale(1.0702,1.0500)">0.0<span style="display:inline-block;font-size:55%;transform:scaleX(1.33);margin:0 0.08em">4</span>2645</div>
<div class="t b" style="left:1278.82px;top:155.40px;font-size:29px;color:#0b1628;transform:scale(1.0807,1.0500)">0.0<span style="display:inline-block;font-size:55%;transform:scaleX(1.33);margin:0 0.08em">4</span>2492</div>
<div class="t b" style="left:1429.61px;top:155.40px;font-size:29px;color:#0b1628;transform:scale(1.0427,1.0500)">1090.22 B</div>
<div class="t b" style="left:1601.79px;top:155.40px;font-size:29px;color:#0b1628;transform:scale(1.1150,1.0500)">28.11 M</div>
<div class="t" style="left:992.78px;top:197.46px;font-size:24px;color:#2f3a49;transform:scale(1.1232,1.0471)">Open</div>
<div class="t" style="left:1158.57px;top:196.75px;font-size:24px;color:#2f3a49;transform:scale(1.0674,1.0824)">High</div>
<div class="t" style="left:1318.70px;top:197.46px;font-size:24px;color:#2f3a49;transform:scale(1.0500,1.0471)">Low</div>
<div class="t" style="left:1483.50px;top:197.46px;font-size:24px;color:#2f3a49;transform:scale(1.0719,1.0471)">Vol</div>
<div class="t" style="left:1613.80px;top:197.46px;font-size:24px;color:#2f3a49;transform:scale(1.0178,1.0471)">Vol USD</div>
<div class="t b" style="left:1614.77px;top:387.38px;font-size:26px;color:#0b1628;transform:scale(1.0307,1.0556)">0.0<span style="display:inline-block;font-size:55%;transform:scaleX(1.33);margin:0 0.08em">4</span>260</div>
<div class="t b" style="left:1614.77px;top:551.78px;font-size:26px;color:#0b1628;transform:scale(1.0307,1.0556)">0.0<span style="display:inline-block;font-size:55%;transform:scaleX(1.33);margin:0 0.08em">4</span>255</div>
<div class="t b" style="left:1614.77px;top:716.28px;font-size:26px;color:#0b1628;transform:scale(1.0307,1.0556)">0.0<span style="display:inline-block;font-size:55%;transform:scaleX(1.33);margin:0 0.08em">4</span>250</div>
<div class="t b" style="left:1520.20px;top:745.26px;font-size:26px;color:#84968a;transform:scale(1.0350,1.0111)">40,000,000,000</div>
<div class="t b" style="left:1519.16px;top:905.26px;font-size:26px;color:#84968a;transform:scale(1.0408,1.0111)">20,000,000,000</div>
<div class="t b" style="left:262.01px;top:834.25px;font-size:27px;color:#0b1628;transform:scale(0.9970,1.0158)">18:00</div>
<div class="t b" style="left:704.92px;top:834.25px;font-size:27px;color:#0b1628;transform:scale(0.9821,1.0158)">00:00</div>
<div class="t b" style="left:1147.72px;top:834.25px;font-size:27px;color:#0b1628;transform:scale(0.9821,1.0158)">06:00</div>
<div class="t b" style="left:1589.51px;top:834.25px;font-size:27px;color:#0b1628;transform:scale(0.9970,1.0158)">12:00</div></div></div></body></html>
